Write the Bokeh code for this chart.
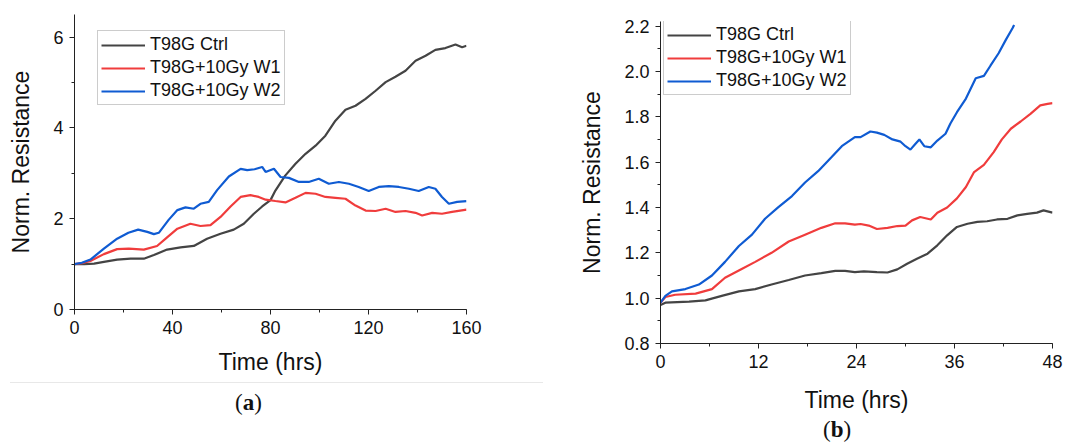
from bokeh.plotting import figure
from bokeh.models import SingleIntervalTicker, NumeralTickFormatter, Div, Range1d
from bokeh.layouts import row, column
from bokeh.embed import file_html
from bokeh.resources import INLINE

# ---------------- data: panel (a), 0-160 hrs ----------------
a_ctrl_t = [0, 4, 8, 12, 17.4, 22.9, 28.3, 32.4, 37.8, 43.3, 48.7, 54.1, 59.6, 65, 69.1, 73.2, 76.6, 80,
            82, 86, 90.2, 94.3, 98.4, 102.4, 106.5, 110.6, 114.7, 118.8, 122.9, 127, 131, 135.1, 139.2,
            143.3, 147.3, 151.4, 155.5, 158.2, 160]
a_ctrl_v = [1.0, 1.0, 1.01, 1.05, 1.10, 1.12, 1.12, 1.20, 1.32, 1.37, 1.40, 1.56, 1.67, 1.76, 1.89, 2.11, 2.27, 2.41,
            2.62, 2.95, 3.21, 3.43, 3.61, 3.83, 4.16, 4.40, 4.49, 4.64, 4.82, 5.01, 5.13, 5.26, 5.48,
            5.59, 5.72, 5.76, 5.84, 5.78, 5.81]

a_w1_t = [0, 3, 6.5, 12, 17.4, 22.2, 28.3, 33.7, 37.8, 42, 47.3, 51.4, 55.5, 59.6, 63.7, 67.8, 71.8, 75.2, 78,
          82, 86.1, 90.2, 94.3, 98.4, 102.4, 106.5, 110.6, 114.7, 118.8, 122.9, 127, 131, 135.1, 139.2,
          141.9, 146, 150, 154.1, 160]
a_w1_v = [1.0, 1.02, 1.07, 1.22, 1.33, 1.34, 1.32, 1.40, 1.59, 1.78, 1.89, 1.84, 1.86, 2.04, 2.27, 2.48, 2.52, 2.48, 2.42,
          2.39, 2.36, 2.46, 2.57, 2.55, 2.48, 2.46, 2.44, 2.29, 2.18, 2.17, 2.22, 2.15, 2.17, 2.13,
          2.07, 2.13, 2.11, 2.15, 2.20]

a_w2_t = [0, 3, 6.5, 12, 17.4, 22, 26, 29.7, 32.4, 34.4, 38.5, 42, 45.3, 48.7, 51.4, 54.8, 58.2, 63, 67.8, 70.5,
          73.5, 76.6, 78, 81.4, 84.1, 87.5, 91.6, 95.6, 99.7, 103.8, 107.9, 112, 116, 120.1, 124.2, 128.3,
          132.4, 136.5, 140.5, 144.6, 147.3, 150, 152.8, 156.2, 160]
a_w2_v = [1.0, 1.03, 1.10, 1.34, 1.56, 1.69, 1.76, 1.71, 1.66, 1.69, 1.98, 2.19, 2.25, 2.22, 2.33, 2.37, 2.63, 2.93, 3.10, 3.07,
          3.09, 3.14, 3.03, 3.10, 2.92, 2.90, 2.81, 2.81, 2.88, 2.77, 2.81, 2.77, 2.70, 2.61, 2.70, 2.72,
          2.70, 2.66, 2.61, 2.70, 2.66, 2.48, 2.33, 2.37, 2.39]

# ---------------- data: panel (b), 0-48 hrs ----------------
b_ctrl_t = [0, 0.6, 3.5, 5.5, 7.5, 9.6, 11.6, 13.6, 15.7, 17.7, 19.7, 21.4, 22.6, 23.8, 24.9, 26.5, 27.8, 29,
            30.2, 31.4, 32.7, 33.9, 35.1, 36.3, 37.6, 38.8, 40, 41.2, 42.5, 43.7, 44.9, 46.1, 46.9, 48]
b_ctrl_v = [0.97, 0.98, 0.985, 0.99, 1.01, 1.03, 1.04, 1.06, 1.08, 1.10, 1.11, 1.12, 1.12, 1.115, 1.118, 1.115, 1.113,
            1.127, 1.152, 1.174, 1.196, 1.233, 1.277, 1.314, 1.328, 1.336, 1.339, 1.347, 1.35, 1.365, 1.372,
            1.377, 1.387, 1.377]

b_w1_t = [0, 0.6, 1.8, 4.3, 6.3, 7.9, 10, 11.6, 13.6, 15.7, 17.7, 19.7, 21.4, 22.6, 23.8, 24.5, 25.5, 26.5, 27.8,
          29, 30, 30.8, 31.8, 33.1, 33.9, 35.1, 36.3, 37.4, 38.4, 39.6, 40.8, 41.8, 42.9, 44.1, 45.3, 46.5, 47.4, 48]
b_w1_v = [0.98, 1.005, 1.015, 1.02, 1.04, 1.09, 1.13, 1.16, 1.20, 1.25, 1.28, 1.31, 1.33, 1.33, 1.324, 1.327, 1.32,
          1.305, 1.31, 1.318, 1.32, 1.343, 1.358, 1.347, 1.377, 1.40, 1.44, 1.49, 1.556, 1.588, 1.644, 1.70,
          1.747, 1.779, 1.813, 1.85, 1.857, 1.86]

b_w2_t = [0, 0.6, 1.4, 3.05, 4.7, 6.3, 7.9, 9.6, 11.2, 12.8, 14.4, 16.1, 17.7, 19.3, 20.9, 22.2, 23.8, 24.5, 25.7,
          26.5, 27.4, 28.4, 29.4, 30, 30.6, 31.2, 31.7, 32.3, 33.1, 33.9, 34.9, 35.5, 36.3, 37.4, 38.6, 39.6,
          40.4, 41.4, 42.3, 43.1, 43.3]
b_w2_v = [0.98, 1.01, 1.03, 1.04, 1.06, 1.10, 1.16, 1.23, 1.28, 1.35, 1.40, 1.45, 1.51, 1.56, 1.62, 1.67, 1.71, 1.71,
          1.735, 1.73, 1.72, 1.70, 1.69, 1.67, 1.655, 1.68, 1.70, 1.67, 1.665, 1.695, 1.725, 1.77, 1.82, 1.88,
          1.97, 1.98, 2.025, 2.08, 2.14, 2.19, 2.205]

series_names = ["T98G Ctrl", "T98G+10Gy W1", "T98G+10Gy W2"]
series_colors = ["#444444", "#f03c3c", "#0f5bd2"]

FONT = "Liberation Sans"


def style_axes(p, x_int, y_int, y_fmt=None, xlab_standoff=12, ylab_standoff=16):
    p.xgrid.visible = False
    p.ygrid.visible = False
    p.outline_line_color = None
    p.background_fill_color = "white"
    p.border_fill_color = "white"
    p.xaxis.ticker = SingleIntervalTicker(interval=x_int, num_minor_ticks=2)
    p.yaxis.ticker = SingleIntervalTicker(interval=y_int, num_minor_ticks=2)
    if y_fmt:
        p.yaxis.formatter = NumeralTickFormatter(format=y_fmt)
    for ax in (p.xaxis[0], p.yaxis[0]):
        ax.axis_line_color = "#222222"
        ax.axis_line_width = 1
        ax.major_tick_line_color = "#222222"
        ax.minor_tick_line_color = "#222222"
        ax.major_tick_in = 0
        ax.major_tick_out = 5
        ax.minor_tick_in = 0
        ax.minor_tick_out = 3
        ax.major_label_text_font = FONT
        ax.major_label_text_font_size = "18px"
        ax.major_label_text_color = "#111111"
        ax.major_label_standoff = 6
        ax.axis_label_text_font = FONT
        ax.axis_label_text_font_size = "23px"
        ax.axis_label_text_font_style = "normal"
        ax.axis_label_text_color = "#111111"
    p.xaxis.axis_label_standoff = xlab_standoff
    p.yaxis.axis_label_standoff = ylab_standoff


def style_legend(p, loc):
    lg = p.legend[0]
    lg.location = loc
    lg.label_text_font = FONT
    lg.label_text_font_size = "18px"
    lg.label_text_color = "#111111"
    lg.border_line_color = "#999999"
    lg.border_line_width = 1
    lg.background_fill_color = "white"
    lg.background_fill_alpha = 1
    lg.padding = 3
    lg.spacing = 2
    lg.glyph_width = 44
    lg.glyph_height = 20
    lg.label_height = 20
    lg.label_standoff = 5
    lg.margin = 0


# ---------------- panel (a) ----------------
p1 = figure(width=570, height=382, output_backend="svg", toolbar_location=None,
            x_range=Range1d(0, 160), y_range=Range1d(0, 6.5),
            min_border_left=74, min_border_right=104, min_border_top=14, min_border_bottom=73)
for (t, v), name, col in zip([(a_ctrl_t, a_ctrl_v), (a_w1_t, a_w1_v), (a_w2_t, a_w2_v)],
                             series_names, series_colors):
    p1.line(t, v, line_color=col, line_width=2.2, legend_label=name)
p1.xaxis.axis_label = "Time (hrs)"
p1.yaxis.axis_label = "Norm. Resistance"
style_axes(p1, 40, 2, xlab_standoff=12)
style_legend(p1, (23, 204))

# ---------------- panel (b) ----------------
p2 = figure(width=496, height=418, output_backend="svg", toolbar_location=None,
            x_range=Range1d(0, 48), y_range=Range1d(0.8, 2.22),
            min_border_left=90, min_border_right=14, min_border_top=21, min_border_bottom=75)
for (t, v), name, col in zip([(b_ctrl_t, b_ctrl_v), (b_w1_t, b_w1_v), (b_w2_t, b_w2_v)],
                             series_names, series_colors):
    p2.line(t, v, line_color=col, line_width=2.2, legend_label=name)
p2.xaxis.axis_label = "Time (hrs)"
p2.yaxis.axis_label = "Norm. Resistance"
style_axes(p2, 12, 0.2, y_fmt="0.0", xlab_standoff=16)
style_legend(p2, (3, 248))

cap_a = Div(text="(<b>a</b>)", width=533, height=58, margin=(0, 0, 0, 10),
            styles={"border-top": "1px solid #e8e8e8", "font-family": "Liberation Serif",
                    "font-size": "23px", "line-height": "22px", "padding-left": "225px",
                    "padding-top": "9px", "box-sizing": "border-box", "color": "#111111"})
cap_b = Div(text="(<b>b</b>)", width=496, height=28, margin=0,
            styles={"font-family": "Liberation Serif", "font-size": "23px", "line-height": "24px",
                    "padding-left": "253px", "box-sizing": "border-box", "color": "#111111"})

layout = row(column(p1, cap_a, spacing=0), column(p2, cap_b, spacing=0), spacing=0)

open("out.html", "w").write(file_html(layout, INLINE))
